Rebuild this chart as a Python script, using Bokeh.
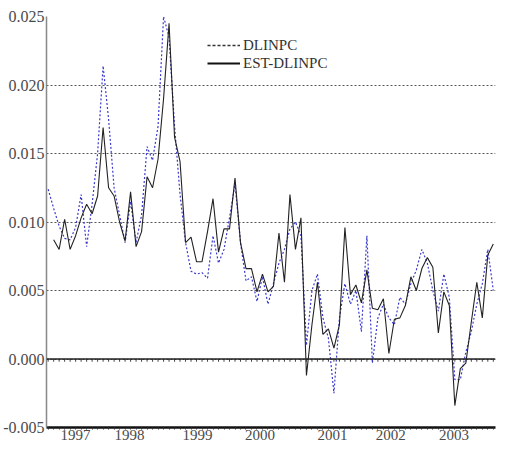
import numpy as np
from bokeh.plotting import figure
from bokeh.models import FixedTicker, Span, Legend, LegendItem
from bokeh.embed import file_html
from bokeh.resources import INLINE

# monthly observations starting March 1997
start_year = 1997
start_month = 3

dlinpc = [0.0124, 0.0110, 0.0097, 0.0088, 0.0087, 0.0096, 0.0120, 0.0082, 0.0113, 0.0150,
          0.0214, 0.0175, 0.0125, 0.0105, 0.0085, 0.0115, 0.0085, 0.0105, 0.0155, 0.0145,
          0.0170, 0.0250, 0.0235, 0.0170, 0.0120, 0.0085, 0.0064, 0.0062, 0.0063, 0.0059,
          0.0090, 0.0070, 0.0080, 0.0103, 0.0128, 0.0085, 0.0057, 0.0060, 0.0042, 0.0060,
          0.0040, 0.0055, 0.0070, 0.0080, 0.0095, 0.0100, 0.0090, 0.0010, 0.0050, 0.0062,
          0.0030, 0.0015, -0.0025, 0.0030, 0.0055, 0.0040, 0.0050, 0.0020, 0.0090, -0.0003,
          0.0030, 0.0040, 0.0030, 0.0025, 0.0045, 0.0040, 0.0055, 0.0065, 0.0080, 0.0070,
          0.0050, 0.0035, 0.0062, 0.0045, -0.0015, -0.0015, 0.0005, 0.0020, 0.0040, 0.0055,
          0.0080, 0.0050]

est_dlinpc = [None, 0.0087, 0.0080, 0.0102, 0.0080, 0.0090, 0.0103, 0.0113, 0.0106, 0.0119,
              0.0169, 0.0125, 0.0119, 0.0100, 0.0086, 0.0122, 0.0082, 0.0093, 0.0133, 0.0125,
              0.0146, 0.0190, 0.0245, 0.0162, 0.0144, 0.0085, 0.0089, 0.0071, 0.0071, 0.0093,
              0.0117, 0.0078, 0.0095, 0.0095, 0.0132, 0.0085, 0.0066, 0.0066, 0.0049, 0.0062,
              0.0049, 0.0053, 0.0092, 0.0056, 0.0120, 0.0080, 0.0103, -0.0012, 0.0025, 0.0056,
              0.0018, 0.0022, 0.0008, 0.0025, 0.0096, 0.0047, 0.0054, 0.0041, 0.0065, 0.0037,
              0.0036, 0.0044, 0.0004, 0.0029, 0.0030, 0.0039, 0.0060, 0.0050, 0.0066, 0.0074,
              0.0067, 0.0019, 0.0049, 0.0039, -0.0034, -0.0007, -0.0003, 0.0027, 0.0056, 0.0030,
              0.0076, 0.0084]

year_labels = ["1997", "1998", "1999", "2000", "2001", "2002", "2003"]
year_label_pos = [1997.58, 1998.40, 1999.43, 2000.38, 2001.48, 2002.36, 2003.32]
y_ticks = [-0.005, 0.000, 0.005, 0.010, 0.015, 0.020, 0.025]

n = len(dlinpc)
x = start_year + (start_month - 1 + np.arange(n)) / 12.0
y_blue = np.array(dlinpc, dtype=float)
y_black = np.array([np.nan if v is None else v for v in est_dlinpc], dtype=float)

FONT = "Liberation Serif"

p = figure(width=496, height=445, output_backend="svg", toolbar_location=None,
           x_range=(x[0] - 0.3 / 12, x[-1] + 0.4 / 12), y_range=(-0.005, 0.025))
p.min_border_left = 45
p.min_border_right = 1
p.min_border_top = 16
p.min_border_bottom = 18
p.outline_line_color = None
p.background_fill_color = "white"

# axes
p.yaxis.ticker = FixedTicker(ticks=y_ticks)
p.yaxis.major_label_overrides = {t: f"{t:.3f}" for t in y_ticks}
p.yaxis.major_label_text_font = FONT
p.yaxis.major_label_text_font_size = "16px"
p.yaxis.major_label_text_color = "#4a4a4a"
p.yaxis.major_tick_out = 0
p.yaxis.major_tick_in = 0
p.yaxis.minor_tick_out = 0
p.yaxis.major_label_standoff = 2
p.yaxis.axis_line_color = "#888888"
p.yaxis.axis_line_width = 1.5

minor = list(x)
p.xaxis.ticker = FixedTicker(ticks=year_label_pos, minor_ticks=minor)
p.xaxis.major_label_overrides = {pos: lab for pos, lab in zip(year_label_pos, year_labels)}
p.xaxis.major_label_text_font = FONT
p.xaxis.major_label_text_font_size = "15px"
p.xaxis.major_label_text_color = "#4a4a4a"
p.xaxis.major_tick_out = 0
p.xaxis.major_tick_in = 0
p.xaxis.minor_tick_out = 2
p.xaxis.minor_tick_in = 0
p.xaxis.minor_tick_line_color = "#333333"
p.xaxis.major_label_standoff = 0
p.xaxis.axis_line_color = "#111111"
p.xaxis.axis_line_width = 2.5

p.xgrid.grid_line_color = None
p.ygrid.grid_line_color = "#555555"
p.ygrid.grid_line_dash = "2 2"
p.ygrid.grid_line_width = 1

# zero line with monthly ticks
p.add_layout(Span(location=0, dimension="width", line_color="#222222", line_width=1.5))
p.segment(x0=x, y0=np.zeros(n), x1=x, y1=np.full(n, -0.0002), line_color="#444444", line_width=1)

# series
p.line(x, y_blue, line_color="#3a3acc", line_width=1.2, line_dash="2 2")
p.line(x, y_black, line_color="#222222", line_width=1.1)

# legend samples (renderers without visible data)
leg_a = p.line(x=[x[0]], y=[np.nan], line_color="#333333", line_width=1.3, line_dash="3 2")
leg_b = p.line(x=[x[0]], y=[np.nan], line_color="#111111", line_width=1.8)
legend = Legend(items=[LegendItem(label="DLINPC", renderers=[leg_a]),
                       LegendItem(label="EST-DLINPC", renderers=[leg_b])],
                location=(161, 355), padding=0, margin=0, spacing=0,
                glyph_width=33, glyph_height=18, label_height=18, label_standoff=3,
                label_text_font=FONT, label_text_font_size="15px", label_text_color="#333333",
                background_fill_alpha=0, border_line_color=None)
p.add_layout(legend, "center")

open("out.html", "w").write(file_html(p, INLINE))
